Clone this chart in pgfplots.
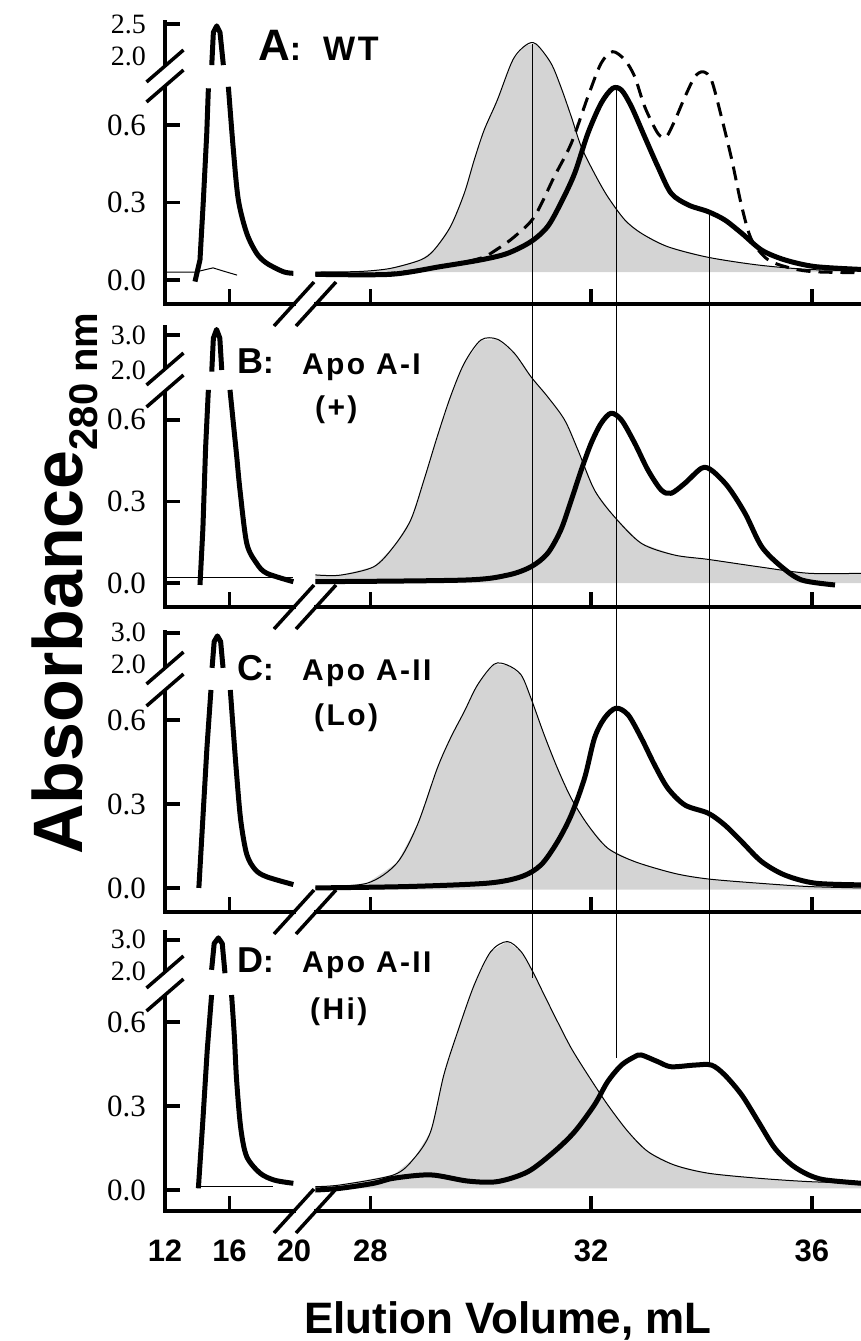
\documentclass[border=0pt]{standalone}
\usepackage{fontspec}
\setmainfont{Liberation Sans}
\newfontfamily\numfont{Liberation Serif}
\newfontfamily\lblfont[LetterSpace=8]{Liberation Sans}
\usepackage{pgfplots}
\pgfplotsset{compat=1.18}
\definecolor{fillgray}{RGB}{212,212,212}
\newcommand\fs[1]{\fontsize{#1}{#1}\selectfont}

\pgfplotsset{
  panel/.style={scale only axis, anchor=south west, tick align=inside,
    major tick length=15pt, tick style={black, line width=3.5pt},
    axis line style={-, line width=3.5pt, line cap=rect},
    xticklabel style={font=\fs{31}\bfseries, yshift=-25pt},
    yticklabel style={font=\numfont\fs{31}, inner sep=1pt, xshift=-18pt},
    xticklabels={}},
  leftax/.style={panel, width=129pt, xmin=12, xmax=20,
    axis x line*=bottom, axis y line*=left, xtick={16},
    extra y tick style={major tick length=0pt}},
  rightax/.style={panel, width=545.7pt, xmin=27, xmax=36.891,
    axis x line*=bottom, axis y line=none, xtick={28,32,36}, ytick=\empty},
  heavy/.style={black, line width=5pt, line join=round},
  fine/.style={black, line width=1pt},
  grayfill/.style={fill=fillgray, draw=none},
  dashedline/.style={black, line width=3pt, dash pattern=on 14pt off 8pt},
}

\begin{document}
\begin{tikzpicture}
\path[use as bounding box] (0pt,0pt) rectangle (861pt,-1341pt);

% ---------------- panel A: WT
\begin{axis}[leftax, at={(165pt,-304pt)}, height=282pt, ymin=-0.093, ymax=1.0,
  ytick={0,0.3,0.6,0.992}, yticklabels={0.0,0.3,0.6,{\fs{28}2.5}},
  extra y ticks={0.868}, extra y tick labels={\fs{28}2.0}]
\addplot[fine] coordinates {(12,0.031) (13.9,0.031) (14.5,0.04) (14.98,0.047) (15.6,0.035) (16.47,0.019)};
\addplot[heavy] coordinates {(13.86,-0.006) (14.17,0.078) (14.38,0.31) (14.59,0.569) (14.69,0.743)};
\addplot[heavy] coordinates {(14.90,0.833) (15.0,0.96) (15.21,0.985) (15.41,0.96) (15.62,0.833)};
\addplot[heavy, smooth] coordinates {(15.93,0.749) (16.24,0.504) (16.55,0.310) (17.07,0.181) (17.69,0.103) (18.31,0.065) (19.34,0.032) (19.96,0.026)};
\end{axis}
\begin{axis}[rightax, at={(315.3pt,-304pt)}, height=282pt, ymin=-0.093, ymax=1.0]
\addplot[grayfill] coordinates {(27.0,0.031) (27.8,0.033) (28.36,0.045) (28.91,0.078) (29.15,0.116) (29.45,0.207) (29.70,0.336) (29.88,0.465) (30.06,0.581) (30.30,0.698) (30.58,0.853) (30.82,0.911) (31.0,0.915) (31.27,0.841) (31.45,0.749) (31.64,0.633) (31.82,0.517) (32.06,0.413) (32.30,0.323) (32.61,0.233) (32.91,0.181) (33.39,0.129) (34.12,0.088) (35.03,0.058) (35.94,0.041) (36.9,0.036) (36.9,0.031)};
\addplot[fine, smooth] coordinates {(27.0,0.031) (27.8,0.033) (28.36,0.045) (28.91,0.078) (29.15,0.116) (29.45,0.207) (29.70,0.336) (29.88,0.465) (30.06,0.581) (30.30,0.698) (30.58,0.853) (30.82,0.911) (31.0,0.915) (31.27,0.841) (31.45,0.749) (31.64,0.633) (31.82,0.517) (32.06,0.413) (32.30,0.323) (32.61,0.233) (32.91,0.181) (33.39,0.129) (34.12,0.088) (35.03,0.058) (35.94,0.041) (36.9,0.036)};
\addplot[dashedline, smooth] coordinates {(27.0,0.022) (28.3,0.025) (29.3,0.052) (30.0,0.085) (30.3,0.12) (30.61,0.168) (30.97,0.245) (31.33,0.400) (31.64,0.530) (31.94,0.710) (32.18,0.840) (32.39,0.885) (32.61,0.853) (32.79,0.788) (32.97,0.672) (33.21,0.568) (33.36,0.555) (33.52,0.620) (33.70,0.710) (33.88,0.788) (34.03,0.807) (34.18,0.775) (34.36,0.633) (34.55,0.465) (34.73,0.284) (34.91,0.155) (35.21,0.078) (35.64,0.045) (36.05,0.032) (36.9,0.028)};
\addplot[heavy, smooth] coordinates {(27.0,0.022) (28.36,0.022) (29.27,0.052) (30.0,0.078) (30.48,0.103) (30.91,0.149) (31.21,0.207) (31.45,0.298) (31.70,0.413) (31.94,0.568) (32.18,0.685) (32.39,0.743) (32.55,0.736) (32.73,0.672) (32.97,0.555) (33.21,0.439) (33.45,0.336) (33.76,0.291) (34.12,0.265) (34.42,0.233) (34.73,0.181) (35.09,0.116) (35.51,0.078) (36.06,0.052) (36.9,0.041)};
\end{axis}

% ---------------- panel B: Apo A-I (+)
\begin{axis}[leftax, at={(165pt,-607pt)}, height=280pt, ymin=-0.088, ymax=0.941,
  ytick={0,0.3,0.6,0.912}, yticklabels={0.0,0.3,0.6,{\fs{28}3.0}},
  extra y ticks={0.783}, extra y tick labels={\fs{28}2.0}]
\addplot[fine] coordinates {(12,0.022) (19.96,0.022)};
\addplot[heavy] coordinates {(14.17,-0.007) (14.35,0.2) (14.52,0.5) (14.69,0.71)};
\addplot[heavy] coordinates {(14.90,0.777) (15.0,0.9) (15.2,0.932) (15.4,0.9) (15.52,0.783)};
\addplot[heavy, smooth] coordinates {(16.03,0.71) (16.24,0.587) (16.45,0.464) (16.65,0.342) (17.07,0.146) (17.69,0.072) (18.31,0.036) (19.96,0.005)};
\end{axis}
\begin{axis}[rightax, at={(315.3pt,-607pt)}, height=280pt, ymin=-0.088, ymax=0.941]
\addplot[grayfill] coordinates {(27.0,0.0) (27.0,0.03) (27.45,0.029) (28.06,0.060) (28.42,0.134) (28.73,0.232) (28.97,0.379) (29.21,0.538) (29.45,0.685) (29.70,0.808) (30.0,0.893) (30.30,0.896) (30.61,0.844) (30.91,0.758) (31.21,0.685) (31.52,0.599) (31.76,0.489) (32.06,0.342) (32.42,0.244) (32.91,0.146) (33.51,0.103) (34.12,0.087) (35.03,0.060) (35.94,0.036) (36.9,0.036) (36.9,0.0)};
\addplot[fine, smooth] coordinates {(27.0,0.03) (27.45,0.029) (28.06,0.060) (28.42,0.134) (28.73,0.232) (28.97,0.379) (29.21,0.538) (29.45,0.685) (29.70,0.808) (30.0,0.893) (30.30,0.896) (30.61,0.844) (30.91,0.758) (31.21,0.685) (31.52,0.599) (31.76,0.489) (32.06,0.342) (32.42,0.244) (32.91,0.146) (33.51,0.103) (34.12,0.087) (35.03,0.060) (35.94,0.036) (36.9,0.036)};
\addplot[heavy, smooth] coordinates {(27.0,0.005) (29.70,0.011) (30.48,0.029) (30.91,0.060) (31.21,0.109) (31.45,0.195) (31.64,0.305) (31.82,0.415) (32.0,0.514) (32.18,0.587) (32.36,0.624) (32.55,0.599) (32.79,0.514) (33.03,0.415) (33.27,0.342) (33.45,0.330) (33.70,0.367) (34.0,0.422) (34.18,0.415) (34.48,0.354) (34.79,0.256) (35.09,0.134) (35.45,0.060) (35.82,0.011) (36.42,-0.007)};
\end{axis}

% ---------------- panel C: Apo A-II (Lo)
\begin{axis}[leftax, at={(165pt,-912pt)}, height=280pt, ymin=-0.086, ymax=0.914,
  ytick={0,0.3,0.6,0.911}, yticklabels={0.0,0.3,0.6,{\fs{28}3.0}},
  extra y ticks={0.800}, extra y tick labels={\fs{28}2.0}]
\addplot[heavy] coordinates {(14.1,0.0) (14.35,0.25) (14.6,0.5) (14.85,0.707)};
\addplot[heavy] coordinates {(14.92,0.786) (15.05,0.88) (15.25,0.90) (15.45,0.88) (15.6,0.786)};
\addplot[heavy, smooth] coordinates {(16.05,0.707) (16.25,0.55) (16.45,0.40) (16.7,0.24) (17.07,0.12) (17.6,0.065) (18.3,0.04) (19.96,0.012)};
\end{axis}
\begin{axis}[rightax, at={(315.3pt,-912pt)}, height=280pt, ymin=-0.086, ymax=0.914]
\addplot[grayfill] coordinates {(27.0,-0.006) (27.0,0.0) (27.94,0.017) (28.48,0.089) (28.85,0.225) (29.21,0.427) (29.45,0.535) (29.70,0.63) (29.94,0.725) (30.24,0.799) (30.48,0.796) (30.73,0.761) (30.91,0.677) (31.15,0.546) (31.39,0.427) (31.64,0.320) (31.94,0.225) (32.30,0.142) (32.79,0.094) (33.51,0.052) (34.12,0.032) (35.03,0.017) (35.94,0.005) (36.9,0.0) (36.9,-0.006)};
\addplot[fine, smooth] coordinates {(27.0,0.0) (27.94,0.017) (28.48,0.089) (28.85,0.225) (29.21,0.427) (29.45,0.535) (29.70,0.63) (29.94,0.725) (30.24,0.799) (30.48,0.796) (30.73,0.761) (30.91,0.677) (31.15,0.546) (31.39,0.427) (31.64,0.320) (31.94,0.225) (32.30,0.142) (32.79,0.094) (33.51,0.052) (34.12,0.032) (35.03,0.017) (35.94,0.005) (36.9,0.0)};
\addplot[heavy, smooth] coordinates {(27.0,0.0) (28.67,0.005) (30.12,0.017) (30.73,0.040) (31.09,0.082) (31.39,0.165) (31.64,0.261) (31.88,0.392) (32.06,0.535) (32.24,0.606) (32.45,0.642) (32.67,0.618) (32.91,0.535) (33.15,0.439) (33.39,0.356) (33.70,0.296) (34.12,0.267) (34.42,0.225) (34.73,0.165) (35.09,0.094) (35.51,0.046) (36.06,0.017) (36.9,0.011)};
\end{axis}

% ---------------- panel D: Apo A-II (Hi)
\begin{axis}[leftax, at={(165pt,-1211pt)}, height=279pt, ymin=-0.075, ymax=0.921,
  ytick={0,0.3,0.6,0.893}, yticklabels={0.0,0.3,0.6,{\fs{28}3.0}},
  extra y ticks={0.782}, extra y tick labels={\fs{28}2.0},
  xticklabels={16}, extra x ticks={12,20}, extra x tick labels={12,20},
  extra x tick style={major tick length=0pt}]
\addplot[fine] coordinates {(14.2,0.014) (18.7,0.014)};
\addplot[heavy] coordinates {(14.07,0.006) (14.35,0.25) (14.62,0.5) (14.89,0.696)};
\addplot[heavy] coordinates {(14.89,0.786) (15.05,0.88) (15.31,0.90) (15.55,0.88) (15.72,0.774)};
\addplot[heavy, smooth] coordinates {(16.13,0.696) (16.3,0.55) (16.44,0.393) (16.7,0.22) (17.07,0.119) (17.9,0.06) (18.8,0.035) (19.96,0.024)};
\end{axis}
\begin{axis}[rightax, at={(315.3pt,-1211pt)}, height=279pt, ymin=-0.075, ymax=0.921,
  xticklabels={28,32,36}]
\addplot[grayfill] coordinates {(27.0,0.006) (27.0,0.012) (27.45,0.018) (28.42,0.054) (28.79,0.113) (29.09,0.208) (29.33,0.411) (29.58,0.565) (29.88,0.732) (30.18,0.851) (30.48,0.887) (30.73,0.851) (30.94,0.780) (31.15,0.696) (31.39,0.601) (31.64,0.506) (31.94,0.411) (32.30,0.304) (32.67,0.208) (33.03,0.137) (33.51,0.089) (34.12,0.060) (35.03,0.042) (35.94,0.030) (36.9,0.024) (36.9,0.006)};
\addplot[fine, smooth] coordinates {(27.0,0.012) (27.45,0.018) (28.42,0.054) (28.79,0.113) (29.09,0.208) (29.33,0.411) (29.58,0.565) (29.88,0.732) (30.18,0.851) (30.48,0.887) (30.73,0.851) (30.94,0.780) (31.15,0.696) (31.39,0.601) (31.64,0.506) (31.94,0.411) (32.30,0.304) (32.67,0.208) (33.03,0.137) (33.51,0.089) (34.12,0.060) (35.03,0.042) (35.94,0.030) (36.9,0.024)};
\addplot[heavy, smooth] coordinates {(27.0,0.0) (27.45,0.006) (28.06,0.024) (28.42,0.042) (29.09,0.054) (29.76,0.032) (30.30,0.030) (30.85,0.065) (31.33,0.137) (31.70,0.208) (32.06,0.304) (32.30,0.387) (32.55,0.446) (32.79,0.476) (32.91,0.482) (33.21,0.458) (33.45,0.440) (33.88,0.446) (34.18,0.446) (34.42,0.411) (34.73,0.339) (35.03,0.244) (35.33,0.149) (35.64,0.089) (35.94,0.054) (36.24,0.036) (36.9,0.024)};
\end{axis}

% ---------------- reference lines across panels
\draw[line width=1pt] (532.3pt,-44pt) -- (532.3pt,-978pt);
\draw[line width=1pt] (616pt,-88pt) -- (616pt,-1058pt);
\draw[line width=1pt] (709pt,-212pt) -- (709pt,-1063pt);

% ---------------- axis breaks
\foreach \c/\d in {66/86, 369/391, 668/690, 972/995} {
  \fill[white] (161pt,-\c pt) rectangle (169pt,-\d pt);
  \draw[line width=3.5pt] (146.5pt,-\c pt-16pt) -- (183.5pt,-\c pt+16pt);
  \draw[line width=3.5pt] (146.5pt,-\d pt-16pt) -- (183.5pt,-\d pt+16pt);
}
\foreach \b in {304, 607, 912, 1211} {
  \draw[line width=3.5pt] (274pt,-\b pt-22pt) -- (314pt,-\b pt+22pt);
  \draw[line width=3.5pt] (296pt,-\b pt-22pt) -- (336pt,-\b pt+22pt);
}

% ---------------- panel labels
\node[anchor=base west, inner sep=0pt] at (258pt,-60pt) {\fs{44}\bfseries A\fs{34}:};
\node[anchor=base west, inner sep=0pt] at (323pt,-60pt) {\lblfont\fs{34}\bfseries WT};
\node[anchor=base west, inner sep=0pt] at (237pt,-373pt) {\fs{36}\bfseries B\fs{32}:};
\node[anchor=base west, inner sep=0pt] at (302pt,-374pt) {\lblfont\fs{30}\bfseries Apo A-I};
\node[anchor=base west, inner sep=0pt] at (315pt,-417pt) {\lblfont\fs{30}\bfseries (+)};
\node[anchor=base west, inner sep=0pt] at (237pt,-680pt) {\fs{36}\bfseries C\fs{32}:};
\node[anchor=base west, inner sep=0pt] at (302pt,-680pt) {\lblfont\fs{30}\bfseries Apo A-II};
\node[anchor=base west, inner sep=0pt] at (314pt,-725pt) {\lblfont\fs{30}\bfseries (Lo)};
\node[anchor=base west, inner sep=0pt] at (237pt,-972pt) {\fs{36}\bfseries D\fs{32}:};
\node[anchor=base west, inner sep=0pt] at (302pt,-972pt) {\lblfont\fs{30}\bfseries Apo A-II};
\node[anchor=base west, inner sep=0pt] at (310pt,-1019pt) {\lblfont\fs{30}\bfseries (Hi)};

% ---------------- axis titles
\node[anchor=base west, rotate=90, inner sep=0pt] at (82pt,-855pt)
  {\fs{70}\bfseries Absorbance\raisebox{-15pt}{\fs{40}\bfseries 280 nm}};
\node[anchor=base, inner sep=0pt] at (508pt,-1333pt) {\fs{44}\bfseries Elution Volume, mL};
\end{tikzpicture}
\end{document}
